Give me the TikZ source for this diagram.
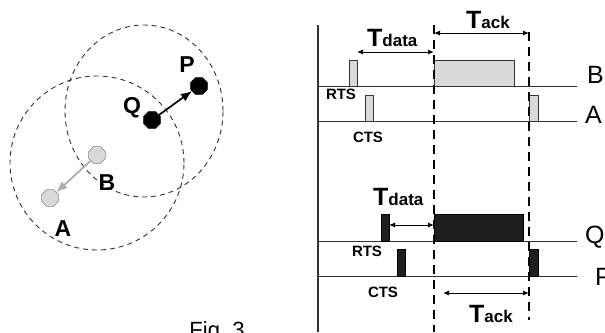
\documentclass[tikz,border=0pt]{standalone}
\usepackage{fontspec}
\setmainfont{Liberation Sans}
\usetikzlibrary{arrows.meta,shapes.geometric}
\definecolor{pulsegray}{HTML}{D9D9D9}
\definecolor{inkgray}{HTML}{333333}
\tikzset{
  rangering/.style={draw=inkgray, line width=0.9pt, dash pattern=on 5pt off 4pt},
  station/.style={regular polygon, regular polygon sides=8, minimum size=18pt, inner sep=0pt, draw=black, line width=0.6pt},
  stnlabel/.style={font=\bfseries\fontsize{23}{23}\selectfont, inner sep=0pt},
  raillabel/.style={font=\fontsize{25}{25}\selectfont, inner sep=0pt, anchor=west},
  siglabel/.style={font=\bfseries\fontsize{15}{15}\selectfont, inner sep=0pt},
  railline/.style={draw=inkgray, line width=1pt},
  timemark/.style={draw=black, line width=1.8pt, dash pattern=on 9pt off 6pt},
  pulseG/.style={draw=inkgray, fill=pulsegray, line width=0.9pt},
  pulseK/.style={draw=black, fill=black!88, line width=0.9pt},
  spanarrow/.style={{Latex[length=6pt,width=5pt]}-{Latex[length=6pt,width=5pt]}, line width=1pt, draw=black},
  timelabel/.style={inner sep=0pt, anchor=base west}
}
\newcommand{\Tsub}[1]{{\fontsize{25}{25}\bfseries T}{\fontsize{17}{17}\bfseries #1}}
\begin{document}
\begin{tikzpicture}[x=1pt,y=-1pt]
\useasboundingbox (0,0) rectangle (605,332);
% ---- left: ranges and stations
\draw[rangering] (144,111) ellipse [x radius=79pt, y radius=86pt];
\draw[rangering] (97,163) circle [radius=87pt];
\node[station, fill=black] (Q) at (152,120) {};
\node[station, fill=black] (P) at (199,86) {};
\node[station, fill=pulsegray, draw=gray] (B) at (97,155) {};
\node[station, fill=pulsegray, draw=gray] (A) at (50,198) {};
\draw[-{Latex[length=11pt,width=9pt]}, line width=1.7pt] (Q) -- (P);
\draw[-{Latex[length=11pt,width=9pt]}, line width=1.7pt, draw=gray!65, fill=gray!65] (B) -- (A);
\node[stnlabel] (lP) at (187,65) {P};
\node[stnlabel] (lQ) at (132,108) {Q};
\node[stnlabel] (lB) at (107,183) {B};
\node[stnlabel] (lA) at (63,229) {A};
\node[inner sep=0pt, anchor=base, font=\fontsize{22}{22}\selectfont] (fig) at (217,337) {Fig.\ 3};
% ---- right: timing diagram
\draw[draw=inkgray, line width=1.1pt] (318,25) -- (318,332);
\draw[railline] (318,86) -- (577,86);
\draw[railline] (318,121) -- (577,121);
\draw[railline] (318,241) -- (577,241);
\draw[railline] (318,276) -- (577,276);
% pulses B/A
\draw[pulseG] (349,60) rectangle (357,86);
\draw[pulseG] (365,95) rectangle (373,121);
\draw[pulseG] (434,60) rectangle (514,86);
\draw[pulseG] (529,95) rectangle (538,121);
% pulses Q/P
\draw[pulseK] (381,214) rectangle (389,241);
\draw[pulseK] (397,249) rectangle (405,276);
\draw[pulseK] (434,214) rectangle (523,241);
\draw[pulseK] (529,249) rectangle (538,276);
% dashed markers
\coordinate (m1t) at (434,25); \coordinate (m1b) at (434,332);
\coordinate (m2t) at (529,32); \coordinate (m2b) at (529,320);
\draw[timemark] (m1t) -- (m1b);
\draw[timemark] (m2t) -- (m2b);
% spans
\coordinate (d1a) at (357,52); \coordinate (d1b) at (434,52);
\coordinate (k1a) at (434,33); \coordinate (k1b) at (529,33);
\coordinate (d2a) at (389,225); \coordinate (d2b) at (434,225);
\coordinate (k2a) at (443,293); \coordinate (k2b) at (529,293);
\draw[spanarrow] (d1a) -- (d1b);
\draw[spanarrow] (k1a) -- (k1b);
\draw[spanarrow] (d2a) -- (d2b);
\draw[spanarrow] (k2a) -- (k2b);
\node[timelabel] (td1) at (367,46) {\Tsub{data}};
\node[timelabel] (tk1) at (466,28) {\Tsub{ack}};
\node[timelabel] (td2) at (373,205) {\Tsub{data}};
\node[timelabel] (tk2) at (469,322) {\Tsub{ack}};
% signal names
\node[siglabel] (rts1) at (341,94) {RTS};
\node[siglabel] (cts1) at (368,137) {CTS};
\node[siglabel] (rts2) at (367,251) {RTS};
\node[siglabel] (cts2) at (383,292) {CTS};
% rail names
\node[raillabel] (nB) at (587,75) {B};
\node[raillabel] (nA) at (585,115) {A};
\node[raillabel] (nQ) at (585,237) {Q};
\node[raillabel] (nP) at (595,277) {P};
\end{tikzpicture}
\end{document}
